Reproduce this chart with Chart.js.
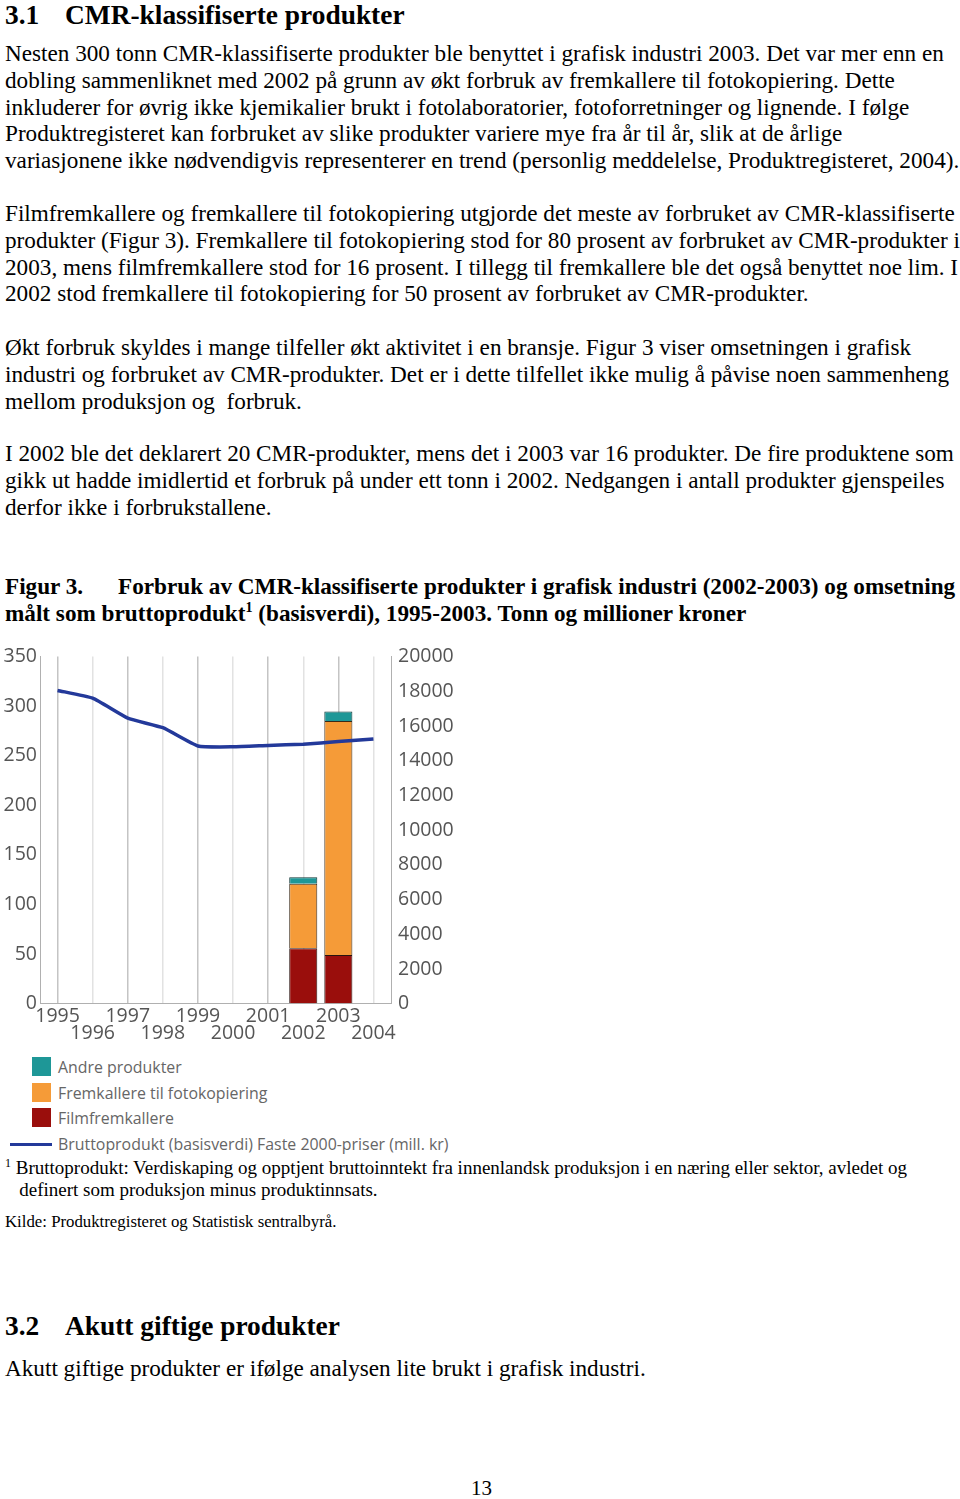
<!DOCTYPE html>
<html lang="no">
<head>
    <meta charset="UTF-8">
    <title>Figur 3 - CMR-klassifiserte produkter</title>
    <script src="https://cdn.jsdelivr.net/npm/chart.js"></script>
    <style>
        body { margin: 0; background: white; color: black; }
        .page { position: relative; width: 960px; height: 1499px; overflow: hidden; font-family: "Liberation Serif", "Times New Roman", serif; }
        .blk { position: absolute; left: 5px; white-space: nowrap; }
        .txt { font-size: 23.2px; line-height: 26.75px; }
        .h { font-size: 27.4px; font-weight: bold; line-height: 31.5px; }
        .h span { display: inline-block; width: 60px; }
        .cap { font-size: 23.2px; font-weight: bold; line-height: 27px; }
        .cap .fig { display: inline-block; width: 113px; }
        .cap sup { font-size: 14px; line-height: 0; }
        .foot { font-size: 19px; line-height: 22px; }
        .foot sup { font-size: 12px; line-height: 0; }
        .chart-box { position: absolute; left: 0; top: 641px; width: 460px; height: 405px; }
        #legend { position: absolute; left: 0; top: 1055px; font-family: "Open Sans", sans-serif; font-size: 15.9px; color: #666; }
        #legend .item { position: relative; height: 25.5px; line-height: 25.5px; padding-left: 58px; white-space: nowrap; }
        #legend .sw { position: absolute; left: 32px; top: 2px; width: 19px; height: 19px; }
        #legend .ln { position: absolute; left: 10px; top: 11px; width: 42px; height: 3px; }
    </style>
</head>
<body>
<div class="page">
    <div class="blk h" style="top:0px;"><span>3.1</span>CMR-klassifiserte produkter</div>

    <div class="blk txt" style="top:40px;">
        Nesten 300 tonn CMR-klassifiserte produkter ble benyttet i grafisk industri 2003. Det var mer enn en<br>
        dobling sammenliknet med 2002 på grunn av økt forbruk av fremkallere til fotokopiering. Dette<br>
        inkluderer for øvrig ikke kjemikalier brukt i fotolaboratorier, fotoforretninger og lignende. I følge<br>
        Produktregisteret kan forbruket av slike produkter variere mye fra år til år, slik at de årlige<br>
        variasjonene ikke nødvendigvis representerer en trend (personlig meddelelse, Produktregisteret, 2004).
    </div>

    <div class="blk txt" style="top:200px;">
        Filmfremkallere og fremkallere til fotokopiering utgjorde det meste av forbruket av CMR-klassifiserte<br>
        produkter (Figur 3). Fremkallere til fotokopiering stod for 80 prosent av forbruket av CMR-produkter i<br>
        2003, mens filmfremkallere stod for 16 prosent. I tillegg til fremkallere ble det også benyttet noe lim. I<br>
        2002 stod fremkallere til fotokopiering for 50 prosent av forbruket av CMR-produkter.
    </div>

    <div class="blk txt" style="top:334px;">
        Økt forbruk skyldes i mange tilfeller økt aktivitet i en bransje. Figur 3 viser omsetningen i grafisk<br>
        industri og forbruket av CMR-produkter. Det er i dette tilfellet ikke mulig å påvise noen sammenheng<br>
        mellom produksjon og&nbsp; forbruk.
    </div>

    <div class="blk txt" style="top:440px;">
        I 2002 ble det deklarert 20 CMR-produkter, mens det i 2003 var 16 produkter. De fire produktene som<br>
        gikk ut hadde imidlertid et forbruk på under ett tonn i 2002. Nedgangen i antall produkter gjenspeiles<br>
        derfor ikke i forbrukstallene.
    </div>

    <div class="blk cap" style="top:573px;">
        <span class="fig">Figur 3.</span>Forbruk av CMR-klassifiserte produkter i grafisk industri (2002-2003) og omsetning<br>
        målt som bruttoprodukt<sup>1</sup> (basisverdi), 1995-2003. Tonn og millioner kroner
    </div>

    <div class="chart-box"><canvas id="chart"></canvas></div>
    <div id="legend"></div>

    <div class="blk foot" style="top:1157px;">
        <sup>1</sup> Bruttoprodukt: Verdiskaping og opptjent bruttoinntekt fra innenlandsk produksjon i en næring eller sektor, avledet og<br>
        &nbsp;&nbsp;&nbsp;definert som produksjon minus produktinnsats.
    </div>
    <div class="blk" style="top:1213px; font-size:16.8px; line-height:18px;">Kilde: Produktregisteret og Statistisk sentralbyrå.</div>

    <div class="blk h" style="top:1311px;"><span>3.2</span>Akutt giftige produkter</div>
    <div class="blk txt" style="top:1355px;">Akutt giftige produkter er ifølge analysen lite brukt i grafisk industri.</div>

    <div class="blk" style="top:1478px; left:471px; font-size:21px; line-height:21px;">13</div>
</div>

<script>
    // years on the x axis
    const years = ['1995', '1996', '1997', '1998', '1999', '2000', '2001', '2002', '2003', '2004'];

    // tonn, stacked bars (only 2002 and 2003)
    const filmfremkallere = [null, null, null, null, null, null, null, 56, 49, null];
    const fotokopiering   = [null, null, null, null, null, null, null, 65, 236, null];
    const andreProdukter  = [null, null, null, null, null, null, null, 6.5, 9.5, null];

    // mill. kr, right axis
    const bruttoprodukt = [18050, 17600, 16450, 15900, 14850, 14800, 14880, 14950, 15100, 15250];

    const leftTicks = [0, 50, 100, 150, 200, 250, 300, 350];
    const rightTicks = [0, 2000, 4000, 6000, 8000, 10000, 12000, 14000, 16000, 18000, 20000];

    const tickFont = { family: "'Open Sans', sans-serif", size: 19.5, lineHeight: 0.88 };
    const tickColor = '#555';

    const chart = new Chart(document.getElementById('chart'), {
        data: {
            labels: years,
            datasets: [
                {
                    type: 'line',
                    label: 'Bruttoprodukt (basisverdi) Faste 2000-priser (mill. kr)',
                    data: bruttoprodukt,
                    yAxisID: 'y1',
                    borderColor: '#23399a',
                    backgroundColor: '#23399a',
                    borderWidth: 3.5,
                    pointRadius: 0,
                    tension: 0.15,
                    order: 0
                },
                {
                    type: 'bar',
                    label: 'Filmfremkallere',
                    data: filmfremkallere,
                    backgroundColor: '#9a0e0c',
                    borderColor: '#2a1410',
                    borderWidth: 1,
                    stack: 'cmr',
                    order: 1
                },
                {
                    type: 'bar',
                    label: 'Fremkallere til fotokopiering',
                    data: fotokopiering,
                    backgroundColor: '#f59b38',
                    borderColor: '#3a2a18',
                    borderWidth: 1,
                    stack: 'cmr',
                    order: 1
                },
                {
                    type: 'bar',
                    label: 'Andre produkter',
                    data: andreProdukter,
                    backgroundColor: '#1e9797',
                    borderColor: '#103838',
                    borderWidth: 1,
                    stack: 'cmr',
                    order: 1
                }
            ]
        },
        options: {
            responsive: true,
            maintainAspectRatio: false,
            animation: false,
            datasets: { bar: { barPercentage: 0.8, categoryPercentage: 1 } },
            plugins: { legend: { display: false }, tooltip: { enabled: false } },
            layout: { padding: 0 },
            scales: {
                x: {
                    stacked: true,
                    offset: true,
                    grid: {
                        offset: false,
                        drawTicks: false,
                        color: (c) => (c.index % 2 === 0 ? '#c4c4c4' : '#e2e2e2'),
                        lineWidth: 1.5
                    },
                    border: { color: '#b0b0b0' },
                    ticks: {
                        color: tickColor,
                        font: tickFont,
                        padding: 4,
                        maxRotation: 0,
                        autoSkip: false,
                        callback: function (v, i) {
                            const lbl = this.getLabelForValue(v);
                            return i % 2 === 0 ? [lbl, ''] : ['', lbl];
                        }
                    }
                },
                y: {
                    stacked: true,
                    position: 'left',
                    min: 0,
                    max: 350,
                    afterBuildTicks: (s) => { s.ticks = leftTicks.map(v => ({ value: v })); },
                    afterFit: (s) => { s.width = 40; },
                    grid: { drawOnChartArea: false, drawTicks: false },
                    border: { color: '#b0b0b0' },
                    ticks: { color: tickColor, font: tickFont, padding: 3, callback: (v) => String(v) }
                },
                y1: {
                    position: 'right',
                    min: 0,
                    max: 20000,
                    afterBuildTicks: (s) => { s.ticks = rightTicks.map(v => ({ value: v })); },
                    afterFit: (s) => { s.width = 69; },
                    grid: { drawOnChartArea: false, drawTicks: false },
                    border: { color: '#b0b0b0' },
                    ticks: { color: tickColor, font: tickFont, padding: 7, callback: (v) => String(v) }
                }
            }
        }
    });

    // legend as html, same order as the original (top to bottom)
    const legendOrder = [3, 2, 1, 0];
    const legendEl = document.getElementById('legend');
    legendOrder.forEach(i => {
        const ds = chart.data.datasets[i];
        const item = document.createElement('div');
        item.className = 'item';
        const mark = document.createElement('span');
        mark.className = ds.type === 'line' ? 'ln' : 'sw';
        mark.style.background = ds.type === 'line' ? ds.borderColor : ds.backgroundColor;
        item.appendChild(mark);
        item.appendChild(document.createTextNode(ds.label));
        legendEl.appendChild(item);
    });
</script>
</body>
</html>
